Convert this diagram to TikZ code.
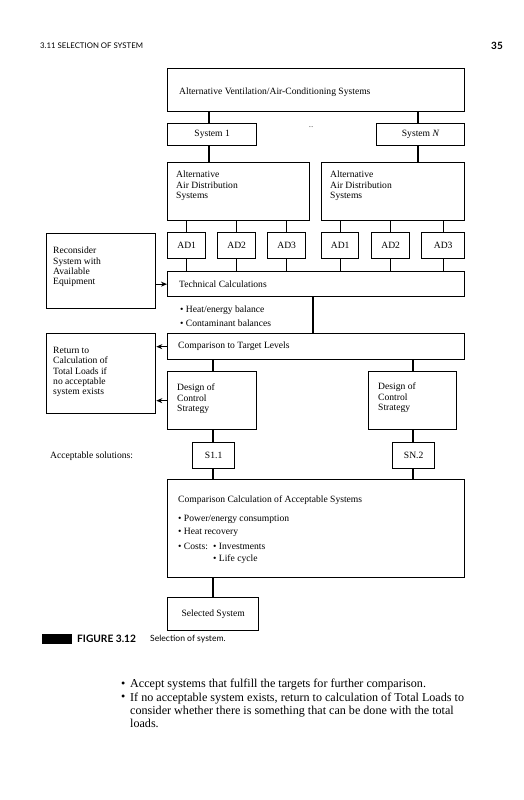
\documentclass[tikz,border=0pt]{standalone}
\usepackage{fontspec}
\setmainfont{Liberation Serif}
\newfontfamily\hdrfont{Lato}
\usetikzlibrary{arrows.meta}
\tikzset{
  box/.style={draw=black, line width=1.3pt, rectangle, inner sep=0pt, fill=white},
  conn/.style={draw=black, line width=1.2pt},
  arr/.style={draw=black, line width=1.2pt, -{Stealth[length=6pt,width=5pt]}},
  txt/.style={font=\fontsize{9.6}{10.3}\selectfont, inner sep=0pt, align=left},
  ctxt/.style={font=\fontsize{9.6}{10.3}\selectfont, inner sep=0pt},
  body/.style={font=\fontsize{12.1}{13.2}\selectfont, inner sep=0pt, align=left},
}
\newcommand{\mybox}[5]{\node[box, anchor=north west, minimum width=#4pt, minimum height=#5pt] (#1) at (#2,#3) {};}
\begin{document}
\begin{tikzpicture}[x=1pt,y=-1pt]
\useasboundingbox (0,0) rectangle (523,800);
% header
\node[anchor=west, inner sep=0pt, font=\hdrfont\fontsize{7.8}{9}\selectfont] (hdr) at (40,46) {3.11 SELECTION OF SYSTEM};
\node[anchor=east, inner sep=0pt, font=\hdrfont\bfseries\fontsize{10}{12}\selectfont] (pg) at (503,46) {35};
% boxes
\mybox{top}{167}{68}{297}{43}
\mybox{sysA}{167}{123}{89}{22}
\mybox{sysN}{376}{123}{88}{22}
\mybox{altA}{167}{162}{142}{58}
\mybox{altB}{321}{162}{143}{58}
\mybox{aa}{167}{232}{38}{26}
\mybox{ab}{217}{232}{38}{26}
\mybox{ac}{267}{232}{38}{26}
\mybox{ba}{321}{232}{37}{26}
\mybox{bb}{371}{232}{38}{26}
\mybox{bc}{421}{232}{43}{26}
\mybox{tech}{167}{271}{297}{25}
\mybox{recon}{46}{233}{109}{75}
\mybox{cmp}{167}{333}{297}{26}
\mybox{ret}{46}{333}{109}{80}
\mybox{desA}{167}{371}{89}{58}
\mybox{desB}{368}{371}{88}{58}
\mybox{sA}{192}{442}{42}{26}
\mybox{sB}{392}{442}{42}{26}
\mybox{calc}{167}{479}{297}{98}
\mybox{sel}{167}{597}{91}{33}
% connectors
\coordinate (c1) at (209,0);
\coordinate (c2) at (418,0);
\coordinate (cm) at (313,0);
\coordinate (cl) at (213,0);
\coordinate (cr) at (413,0);
\draw[conn] (top.south -| c1) -- (sysA.north -| c1);
\draw[conn] (top.south -| c2) -- (sysN.north -| c2);
\draw[conn] (sysA.south -| c1) -- (altA.north -| c1);
\draw[conn] (sysN.south -| c2) -- (altB.north -| c2);
\foreach \n in {aa,ab,ac} {
  \draw[conn] (\n.north) -- (\n.north |- altA.south);
  \draw[conn] (\n.south) -- (\n.south |- tech.north);
}
\foreach \n in {ba,bb,bc} {
  \draw[conn] (\n.north) -- (\n.north |- altB.south);
  \draw[conn] (\n.south) -- (\n.south |- tech.north);
}
\draw[conn] (tech.south -| cm) -- (cmp.north -| cm);
\draw[conn] (cmp.south -| cl) -- (desA.north -| cl);
\draw[conn] (cmp.south -| cr) -- (desB.north -| cr);
\draw[conn] (desA.south -| cl) -- (sA.north -| cl);
\draw[conn] (desB.south -| cr) -- (sB.north -| cr);
\draw[conn] (sA.south -| cl) -- (calc.north -| cl);
\draw[conn] (sB.south -| cr) -- (calc.north -| cr);
\draw[conn] (calc.south -| cl) -- (sel.north -| cl);
\draw[arr] (recon.east |- tech.west) -- (tech.west);
\draw[arr] (cmp.west) -- (ret.east |- cmp.west);
\draw[arr] (desA.west) -- (ret.east |- desA.west);
% texts
\node[txt, anchor=west] (ttop) at (179,92) {Alternative Ventilation/Air-Conditioning Systems};
\node[ctxt] at (sysA.center) {System 1};
\node[ctxt] at (sysN.center) {System \textit{N}};
\node[ctxt] (dots) at (311,127) {\fontsize{6}{6}\selectfont ...};
\node[txt, anchor=north west] at (176,171) {Alternative\\Air Distribution\\Systems};
\node[txt, anchor=north west] at (330,171) {Alternative\\Air Distribution\\Systems};
\foreach \n/\t in {aa/AD1,ab/AD2,ac/AD3,ba/AD1,bb/AD2,bc/AD3} {
  \node[ctxt] at (\n.center) {\t};
}
\node[txt, anchor=west] at (179,284) {Technical Calculations};
\node[txt, anchor=north west] at (53,247) {Reconsider\\System with\\Available\\Equipment};
\node[txt, anchor=west] at (180,310) {\textbullet\ Heat/energy balance};
\node[txt, anchor=west] at (180,323) {\textbullet\ Contaminant balances};
\node[txt, anchor=west] at (178,346) {Comparison to Target Levels};
\node[txt, anchor=north west] at (53,347) {Return to\\Calculation of\\Total Loads if\\no acceptable\\system exists};
\node[txt, anchor=north west] at (177,384) {Design of\\Control\\Strategy};
\node[txt, anchor=north west] at (378,383) {Design of\\Control\\Strategy};
\node[ctxt] at (sA.center) {S1.1};
\node[ctxt] at (sB.center) {SN.2};
\node[txt, anchor=west] at (50,456) {Acceptable solutions:};
\node[txt, anchor=west] at (178,500) {Comparison Calculation of Acceptable Systems};
\node[txt, anchor=west] at (178,519) {\textbullet\ Power/energy consumption};
\node[txt, anchor=west] at (178,532) {\textbullet\ Heat recovery};
\node[txt, anchor=west] at (178,546) {\textbullet\ Costs:};
\node[txt, anchor=west] at (213,546) {\textbullet\ Investments};
\node[txt, anchor=west] at (213,559) {\textbullet\ Life cycle};
\node[ctxt] at (sel.center) {Selected System};
% caption
\fill[black] (42,634) rectangle (72,644);
\node[anchor=west, inner sep=0pt, font=\hdrfont\bfseries\fontsize{10.2}{11}\selectfont] (fig) at (77,639) {FIGURE 3.12};
\node[anchor=west, inner sep=0pt, font=\hdrfont\fontsize{8.6}{10}\selectfont] (cap) at (150,639) {Selection of system.};
% body text
\node[body, anchor=west] at (121,685) {\textbullet};
\node[body, anchor=west] at (130,685) {Accept systems that fulfill the targets for further comparison.};
\node[body, anchor=west] at (121,698.2) {\textbullet};
\node[body, anchor=north west] at (130,692.5) {If no acceptable system exists, return to calculation of Total Loads to\\consider whether there is something that can be done with the total\\loads.};
\end{tikzpicture}
\end{document}
